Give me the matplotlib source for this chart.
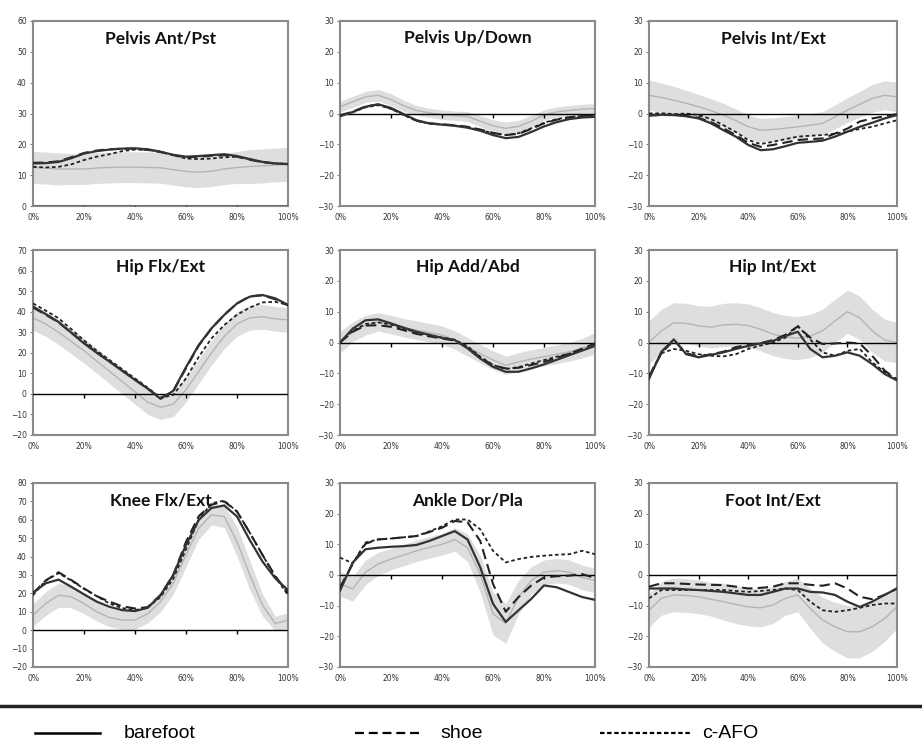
# coding=utf-8
import matplotlib
matplotlib.use('Agg')
import matplotlib.pyplot as plt
from matplotlib.lines import Line2D

# gait cycle, % (every 5%)
cycle = [0, 5, 10, 15, 20, 25, 30, 35, 40, 45, 50, 55, 60, 65, 70, 75, 80, 85, 90, 95, 100]
xtick_labels = ['0%', '20%', '40%', '60%', '80%', '100%']

titles = ['Pelvis Ant/Pst', 'Pelvis Up/Down', 'Pelvis Int/Ext',
          'Hip Flx/Ext', 'Hip Add/Abd', 'Hip Int/Ext',
          'Knee Flx/Ext', 'Ankle Dor/Pla', 'Foot Int/Ext']
y_limits = [(0, 60), (-30, 30), (-30, 30),
            (-20, 70), (-30, 30), (-30, 30),
            (-20, 80), (-30, 30), (-30, 30)]

# Pelvis Ant/Pst
pel_tilt_bare = [13.8, 13.9, 14.3, 15.5, 17.0, 17.8, 18.3, 18.6, 18.7, 18.4, 17.6, 16.6, 16.0, 16.2, 16.5, 16.8, 16.2, 15.2, 14.3, 13.8, 13.6]
pel_tilt_shoe = [14.0, 14.1, 14.5, 15.8, 17.2, 18.0, 18.4, 18.6, 18.6, 18.2, 17.5, 16.5, 15.8, 16.0, 16.3, 16.5, 16.0, 15.0, 14.2, 13.8, 13.6]
pel_tilt_cafo = [12.7, 12.5, 12.7, 13.5, 14.9, 16.0, 16.8, 17.8, 18.3, 18.2, 17.6, 16.5, 15.4, 15.2, 15.4, 15.8, 16.0, 15.2, 14.3, 13.8, 13.6]
pel_tilt_norm = [12.5, 12.3, 12.0, 12.0, 12.0, 12.3, 12.5, 12.6, 12.6, 12.5, 12.4, 11.8, 11.2, 11.0, 11.3, 12.0, 12.5, 12.8, 13.0, 13.3, 13.5]
pel_tilt_sd = [5.2, 5.2, 5.2, 5.0, 5.0, 5.0, 5.0, 5.0, 5.0, 5.0, 5.0, 5.0, 5.0, 5.0, 5.0, 5.0, 5.2, 5.5, 5.5, 5.5, 5.5]

# Pelvis Up/Down
pel_obl_bare = [-0.9, 0.5, 2.2, 3.0, 1.8, -0.2, -2.2, -3.2, -3.6, -4.0, -4.6, -5.6, -7.0, -8.0, -7.6, -6.0, -4.2, -2.8, -1.8, -1.3, -1.1]
pel_obl_shoe = [-0.6, 0.6, 2.3, 2.9, 1.6, -0.4, -2.3, -3.2, -3.5, -3.8, -4.3, -5.2, -6.3, -7.0, -6.6, -5.0, -3.2, -2.0, -1.2, -0.8, -0.6]
pel_obl_cafo = [-0.8, 0.4, 2.0, 2.7, 1.5, -0.5, -2.4, -3.3, -3.6, -3.9, -4.4, -5.3, -6.4, -7.0, -6.4, -4.8, -3.0, -1.8, -1.2, -0.8, -0.7]
pel_obl_norm = [2.2, 3.8, 5.4, 5.9, 4.5, 2.5, 1.0, 0.2, -0.4, -0.7, -1.0, -2.5, -4.0, -4.8, -4.2, -2.5, -0.5, 0.5, 1.0, 1.4, 1.6]
pel_obl_sd = [1.8, 1.8, 1.8, 1.9, 1.9, 1.8, 1.6, 1.5, 1.5, 1.5, 1.6, 1.8, 2.0, 2.0, 2.0, 1.9, 1.7, 1.6, 1.6, 1.6, 1.6]

# Pelvis Int/Ext
pel_rot_bare = [-0.5, -0.4, -0.5, -0.9, -1.6, -3.2, -5.4, -7.5, -10.2, -11.9, -11.6, -10.6, -9.5, -9.2, -8.8, -7.5, -5.9, -4.3, -3.0, -1.6, -0.5]
pel_rot_shoe = [-0.7, -0.5, -0.5, -0.8, -1.4, -2.8, -4.8, -7.0, -9.5, -10.8, -10.2, -9.4, -8.6, -8.3, -8.1, -6.5, -4.9, -2.6, -1.6, -0.9, -0.2]
pel_rot_cafo = [0.0, 0.1, -0.2, 0.0, -0.5, -1.8, -3.8, -6.0, -8.6, -9.9, -9.2, -8.3, -7.5, -7.2, -7.0, -6.5, -5.9, -5.0, -4.3, -3.2, -2.2]
pel_rot_norm = [5.9, 5.2, 4.3, 3.3, 2.2, 0.9, -0.5, -2.3, -4.3, -5.4, -5.2, -4.8, -4.3, -3.8, -3.2, -1.1, 1.1, 3.0, 4.9, 5.9, 5.4]
pel_rot_sd = [4.9, 4.7, 4.5, 4.2, 4.0, 3.9, 3.8, 3.8, 3.8, 3.8, 3.8, 3.8, 3.8, 3.8, 3.8, 3.9, 4.0, 4.2, 4.5, 4.7, 4.8]

# Hip Flx/Ext
hip_flx_bare = [42.5, 38.8, 35.0, 29.8, 24.6, 20.0, 15.7, 11.2, 6.8, 2.5, -2.4, 1.5, 13.0, 23.8, 31.9, 38.4, 44.0, 47.3, 48.1, 46.5, 43.3]
hip_flx_shoe = [42.0, 38.5, 34.8, 29.8, 24.8, 20.2, 15.8, 11.4, 7.0, 2.6, -2.0, 1.2, 12.5, 23.5, 31.8, 38.5, 44.0, 47.5, 48.0, 46.0, 43.0]
hip_flx_cafo = [44.0, 40.5, 36.8, 31.5, 26.0, 21.0, 16.5, 12.0, 7.5, 3.0, -2.0, -0.5, 7.6, 18.0, 27.0, 33.5, 38.5, 42.0, 44.5, 44.8, 43.3]
hip_flx_norm = [37.0, 34.0, 30.0, 25.5, 21.0, 16.0, 11.0, 6.0, 1.0, -4.0, -6.5, -5.0, 2.0, 11.0, 20.0, 28.0, 34.0, 37.0, 37.5, 36.5, 36.0]
hip_flx_sd = [6.0, 6.0, 6.0, 6.0, 6.0, 6.0, 6.0, 6.0, 6.0, 6.0, 6.0, 6.0, 6.0, 6.0, 6.0, 6.0, 6.0, 6.0, 6.0, 6.0, 6.0]

# Hip Add/Abd
hip_add_bare = [0.0, 4.5, 7.2, 7.5, 6.2, 4.8, 3.5, 2.5, 1.5, 0.8, -1.9, -5.2, -7.9, -9.5, -9.5, -8.4, -7.1, -5.6, -4.1, -2.6, -1.1]
hip_add_shoe = [0.0, 3.5, 5.5, 5.6, 5.1, 4.0, 2.8, 2.0, 1.3, 0.6, -1.6, -4.8, -7.4, -8.4, -8.2, -7.3, -6.3, -5.0, -3.6, -2.0, -0.3]
hip_add_cafo = [0.0, 3.8, 6.0, 6.5, 5.8, 4.5, 3.2, 2.3, 1.6, 0.9, -1.2, -4.6, -7.3, -8.6, -8.0, -6.8, -5.7, -4.6, -3.6, -2.4, -1.0]
hip_add_norm = [0.0, 3.5, 5.6, 6.7, 5.8, 4.8, 4.0, 3.2, 2.4, 0.8, -1.4, -3.6, -5.7, -7.4, -6.3, -5.4, -4.6, -3.8, -3.0, -1.8, -0.3]
hip_add_sd = [3.5, 3.2, 3.2, 3.0, 3.0, 3.0, 3.0, 3.0, 3.0, 3.0, 3.0, 3.0, 3.0, 3.0, 3.0, 3.0, 3.0, 3.0, 3.0, 3.2, 3.5]

# Hip Int/Ext
hip_rot_bare = [-11.8, -3.0, 1.0, -3.8, -4.8, -4.0, -3.2, -2.1, -1.1, -0.3, 0.5, 2.1, 3.5, -2.1, -4.8, -4.3, -3.2, -4.3, -7.0, -10.2, -12.3]
hip_rot_shoe = [-11.0, -3.5, 0.8, -3.5, -4.5, -3.8, -3.0, -1.5, -0.8, -0.2, 0.8, 2.5, 5.2, 1.6, -0.5, -0.3, 0.0, -0.3, -4.3, -9.1, -12.0]
hip_rot_cafo = [-10.7, -3.5, -2.1, -2.7, -3.8, -4.3, -4.5, -3.8, -2.1, -1.0, 0.0, 1.6, 5.4, 1.0, -3.2, -4.3, -2.7, -2.1, -6.4, -9.6, -12.0]
hip_rot_norm = [0.0, 3.8, 6.4, 6.2, 5.4, 5.0, 5.7, 5.9, 5.5, 4.3, 2.7, 1.8, 1.4, 2.1, 3.8, 7.0, 10.0, 8.0, 3.8, 0.8, 0.0]
hip_rot_sd = [7.0, 7.0, 6.5, 6.5, 6.5, 6.8, 7.0, 7.0, 7.0, 7.0, 7.0, 7.0, 7.0, 7.0, 7.0, 7.0, 7.0, 7.0, 7.0, 6.8, 6.5]

# Knee Flx/Ext
knee_flx_bare = [20.4, 25.5, 27.5, 23.6, 19.5, 15.5, 12.7, 10.9, 10.4, 12.2, 19.0, 30.0, 46.4, 60.0, 66.4, 67.8, 61.8, 49.0, 37.3, 28.2, 21.8]
knee_flx_shoe = [20.0, 27.0, 31.5, 27.3, 22.7, 18.5, 15.5, 13.0, 11.8, 12.5, 19.0, 30.0, 48.0, 62.0, 68.2, 70.0, 64.5, 53.0, 40.9, 29.5, 20.0]
knee_flx_cafo = [19.0, 27.0, 31.0, 27.0, 22.5, 18.5, 14.5, 12.0, 10.9, 12.5, 18.0, 28.0, 44.0, 60.0, 69.0, 70.4, 64.5, 53.0, 40.9, 29.0, 19.0]
knee_flx_norm = [8.2, 14.5, 19.0, 18.2, 14.5, 10.0, 6.9, 5.5, 5.5, 9.0, 15.5, 25.5, 41.0, 55.5, 62.7, 61.8, 48.2, 30.0, 13.6, 3.6, 5.5]
knee_flx_sd = [6.0, 6.5, 6.5, 6.0, 5.5, 5.0, 5.0, 5.0, 5.0, 5.0, 5.5, 6.0, 6.5, 6.0, 5.5, 6.0, 8.0, 8.0, 6.0, 4.0, 4.0]

# Ankle Dor/Pla
ank_dor_bare = [-5.1, 4.1, 8.4, 8.9, 9.2, 9.4, 9.8, 11.1, 12.7, 14.3, 11.6, 2.5, -9.4, -15.3, -11.5, -7.8, -3.4, -4.0, -5.6, -7.2, -8.1]
ank_dor_shoe = [-4.0, 3.6, 10.2, 11.6, 11.9, 12.3, 12.7, 14.0, 15.4, 17.6, 17.2, 11.1, -2.9, -12.0, -7.2, -3.4, -0.8, -0.4, -0.2, 0.3, -1.0]
ank_dor_cafo = [5.7, 3.8, 10.6, 11.6, 11.9, 12.3, 12.7, 14.2, 15.9, 18.1, 18.1, 14.9, 7.9, 4.1, 5.2, 5.9, 6.3, 6.6, 6.8, 7.9, 6.8]
ank_dor_norm = [-2.9, -4.5, 0.9, 3.6, 5.2, 6.5, 7.9, 9.0, 10.0, 11.6, 8.9, 0.3, -12.6, -15.8, -7.2, -1.8, 0.9, 1.4, 0.9, -0.8, -1.8]
ank_dor_sd = [4.0, 4.0, 4.0, 3.8, 3.5, 3.5, 3.5, 3.5, 3.5, 3.8, 4.5, 6.0, 7.0, 6.5, 5.5, 4.5, 4.0, 4.0, 4.0, 4.0, 4.0]

# Foot Int/Ext
foot_rot_bare = [-4.4, -4.4, -4.4, -4.7, -4.9, -5.2, -5.5, -6.0, -6.5, -6.5, -5.5, -4.4, -4.4, -5.5, -5.7, -6.5, -8.7, -10.4, -8.7, -6.5, -4.4]
foot_rot_shoe = [-3.8, -2.7, -2.7, -2.9, -3.1, -3.2, -3.3, -3.8, -4.4, -4.2, -3.8, -2.7, -2.7, -3.2, -3.5, -2.7, -4.4, -7.1, -7.9, -6.5, -4.4]
foot_rot_cafo = [-7.6, -4.9, -4.9, -4.9, -4.9, -4.9, -4.9, -5.2, -5.5, -5.2, -4.9, -4.4, -4.9, -8.7, -11.5, -12.0, -11.5, -10.7, -9.8, -9.3, -9.3]
foot_rot_norm = [-11.5, -7.6, -6.5, -6.7, -7.1, -7.9, -8.7, -9.6, -10.4, -10.7, -9.8, -7.6, -6.5, -10.9, -14.7, -16.9, -18.5, -18.5, -16.9, -14.2, -10.4]
foot_rot_sd = [5.5, 5.5, 5.5, 5.5, 5.5, 5.5, 6.0, 6.2, 6.2, 6.2, 6.0, 5.5, 5.5, 6.5, 7.5, 8.0, 8.5, 8.5, 8.0, 7.5, 7.0]

bare_all = [pel_tilt_bare, pel_obl_bare, pel_rot_bare, hip_flx_bare, hip_add_bare, hip_rot_bare, knee_flx_bare, ank_dor_bare, foot_rot_bare]
shoe_all = [pel_tilt_shoe, pel_obl_shoe, pel_rot_shoe, hip_flx_shoe, hip_add_shoe, hip_rot_shoe, knee_flx_shoe, ank_dor_shoe, foot_rot_shoe]
cafo_all = [pel_tilt_cafo, pel_obl_cafo, pel_rot_cafo, hip_flx_cafo, hip_add_cafo, hip_rot_cafo, knee_flx_cafo, ank_dor_cafo, foot_rot_cafo]
norm_all = [pel_tilt_norm, pel_obl_norm, pel_rot_norm, hip_flx_norm, hip_add_norm, hip_rot_norm, knee_flx_norm, ank_dor_norm, foot_rot_norm]
sd_all = [pel_tilt_sd, pel_obl_sd, pel_rot_sd, hip_flx_sd, hip_add_sd, hip_rot_sd, knee_flx_sd, ank_dor_sd, foot_rot_sd]

fig = plt.figure(figsize=(9.22, 7.45), dpi=100)

W, H = 922.0, 745.0
col_left = [33, 340, 649]
col_width = [255, 255, 248]
row_top = [21, 250, 483]
row_height = [185, 185, 184]

for i in range(9):
    r, c = i // 3, i % 3
    ax = fig.add_axes([col_left[c] / W, 1 - (row_top[r] + row_height[r]) / H,
                       col_width[c] / W, row_height[r] / H])
    lo = [m - s for m, s in zip(norm_all[i], sd_all[i])]
    hi = [m + s for m, s in zip(norm_all[i], sd_all[i])]
    ax.fill_between(cycle, lo, hi, color='#dedede', lw=0, zorder=1)
    ax.plot(cycle, norm_all[i], color='#b4b4b4', lw=1.0, zorder=2)
    ax.axhline(0, color='black', lw=1.0, zorder=3)
    ax.plot([20, 40, 60, 80], [0, 0, 0, 0], ls='none', marker=3, ms=3, color='black', zorder=3)
    ax.plot(cycle, cafo_all[i], color='#222222', lw=1.3, ls=(0, (2, 1.5)), zorder=4)
    ax.plot(cycle, shoe_all[i], color='#222222', lw=1.5, ls=(0, (5, 2.5)), zorder=5)
    ax.plot(cycle, bare_all[i], color='#333333', lw=1.6, zorder=6)

    ax.set_xlim(0, 100)
    ax.set_ylim(y_limits[i])
    ax.set_yticks(range(y_limits[i][0], y_limits[i][1] + 1, 10))
    ax.set_xticks([0, 20, 40, 60, 80, 100])
    ax.set_xticklabels(xtick_labels)
    ax.tick_params(axis='both', labelsize=5.5, labelcolor='#333333', color='#808080',
                   length=2.5, width=0.8, pad=2)
    ax.tick_params(axis='x', length=0, pad=5)
    for sp in ax.spines.values():
        sp.set_color('#8a8a8a')
        sp.set_linewidth(1.5)
    ax.set_title(titles[i], y=0.835, fontsize=12.5, fontweight='bold', family=['Lato', 'DejaVu Sans'], color='#111111')

# legend strip at bottom
fig.add_artist(Line2D([0, 1], [1 - 706 / H, 1 - 706 / H], transform=fig.transFigure, color='#222222', lw=2.5))
ly = 1 - 733 / H
fig.add_artist(Line2D([35 / W, 100 / W], [ly, ly], transform=fig.transFigure, color='black', lw=1.8))
fig.add_artist(Line2D([355 / W, 420 / W], [ly, ly], transform=fig.transFigure, color='black', lw=1.6, ls=(0, (4, 2.2))))
fig.add_artist(Line2D([600 / W, 690 / W], [ly, ly], transform=fig.transFigure, color='black', lw=1.6, ls=(0, (2, 1.2))))
lfont = ['Liberation Sans Narrow', 'Liberation Sans', 'DejaVu Sans']
fig.text(124 / W, ly, 'barefoot', fontsize=14, family=lfont, va='center')
fig.text(440 / W, ly, 'shoe', fontsize=14, family=lfont, va='center')
fig.text(702 / W, ly, 'c-AFO', fontsize=14, family=lfont, va='center')

plt.savefig('out.png', dpi=100)
